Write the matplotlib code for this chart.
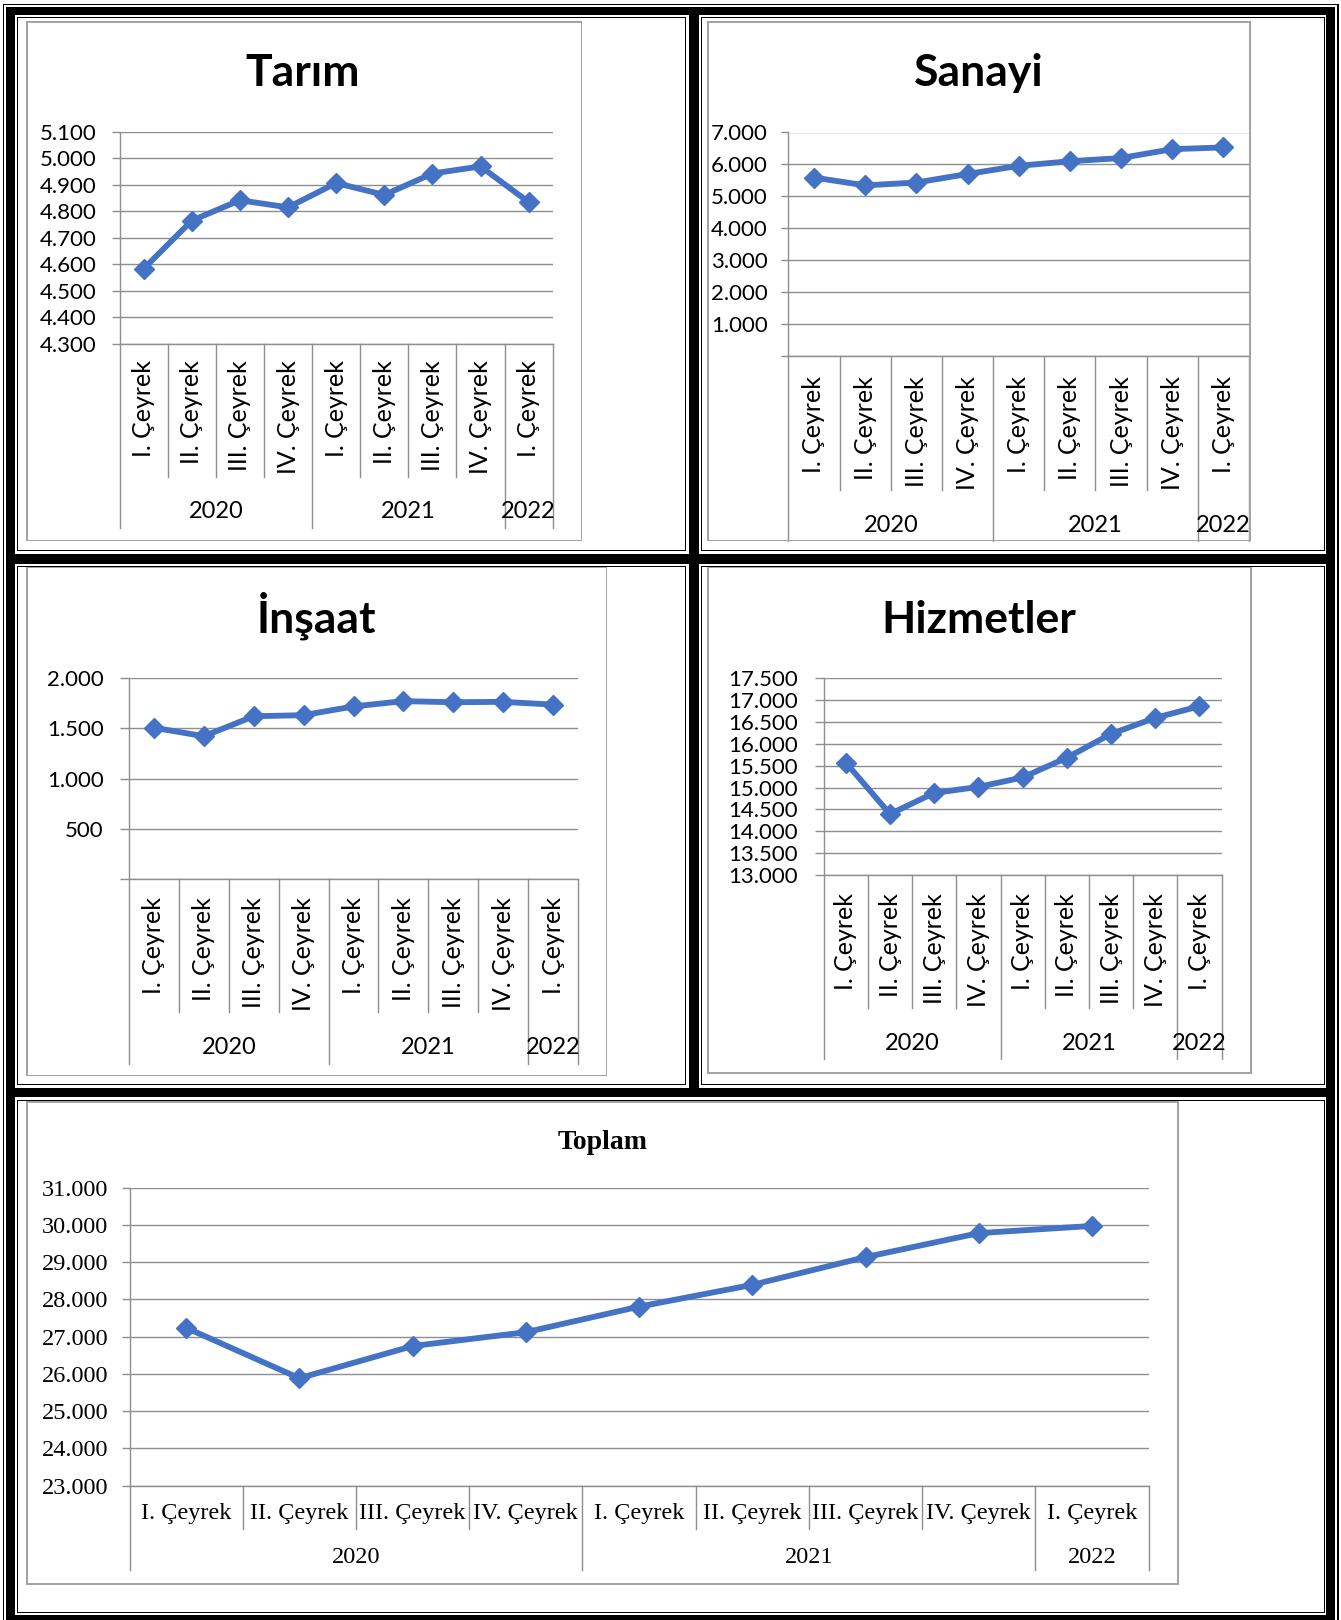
import matplotlib
matplotlib.use("Agg")
import matplotlib.pyplot as plt
from matplotlib.patches import Rectangle
from matplotlib.transforms import blended_transform_factory

# ---------------- data ----------------
quarters = ["I. Çeyrek", "II. Çeyrek", "III. Çeyrek", "IV. Çeyrek",
            "I. Çeyrek", "II. Çeyrek", "III. Çeyrek", "IV. Çeyrek", "I. Çeyrek"]
years = ["2020", "2021", "2022"]
year_spans = [(0, 3), (4, 7), (8, 8)]

tarim = [4583, 4765, 4842, 4815, 4907, 4862, 4943, 4970, 4835]
sanayi = [5589, 5344, 5433, 5700, 5956, 6100, 6200, 6478, 6533]
insaat = [1507, 1423, 1622, 1633, 1720, 1773, 1762, 1766, 1738]
hizmetler = [15573, 14395, 14879, 15016, 15233, 15685, 16230, 16597, 16862]
toplam = [27236, 25882, 26746, 27118, 27805, 28390, 29136, 29780, 29973]

W, H = 1341, 1620
DPI = 100
PX = 72.0 / DPI  # points per pixel

plt.rcParams['font.family'] = ['Lato', 'DejaVu Sans']

fig = plt.figure(figsize=(W / DPI, H / DPI), dpi=DPI)
fig.patch.set_facecolor('white')

LINE_C = '#4472C4'
GRID_C = '#8e8e8e'
FRAME_C = '#a3a3a3'


def rect(x0, y0, x1, y1, color='black', z=5):
    fig.add_artist(Rectangle((x0 / W, 1 - y1 / H), (x1 - x0) / W, (y1 - y0) / H,
                             transform=fig.transFigure, facecolor=color,
                             edgecolor='none', lw=0, zorder=z))


def outline(x0, y0, x1, y1, t=1.3, color='black', z=5):
    rect(x0, y0, x1, y0 + t, color, z)
    rect(x0, y1 - t, x1, y1, color, z)
    rect(x0, y0, x0 + t, y1, color, z)
    rect(x1 - t, y0, x1, y1, color, z)


# ---------------- page borders ----------------
outline(3, 4, 1338.7, 1624, t=1.4)
rect(6, 7, 15, 1620)           # left
rect(1326, 7, 1335, 1620)      # right
rect(6, 7, 1335, 15)           # top
rect(6, 1615, 1335, 1620)      # bottom
rect(689, 7, 699, 1097)        # vertical divider
rect(6, 554, 1335, 564)        # horizontal divider 1
rect(6, 1088, 1335, 1097)      # horizontal divider 2
outline(17, 17, 686.3, 551.3)
outline(701, 17, 1325, 551.3)
outline(17, 566, 686.3, 1085.3)
outline(701, 566, 1325, 1085.3)
outline(17, 1100, 1325, 1613.3)

for (x0, y0, x1, y1) in [(26, 21, 582, 541), (707.4, 21, 1250.6, 541),
                         (26, 566.5, 607, 1076), (707.4, 566.5, 1251.5, 1073.7),
                         (26, 1101, 1178.7, 1584.6)]:
    outline(x0, y0, x1, y1, t=1.5, color=FRAME_C, z=4)


def fmt(v):
    return f"{int(v):,}".replace(",", ".")


def panel(vals, L, R, T, B, ymin, ymax, step, hide_zero, label_right, ticklen,
          qsep, ysep, year_y, cat_y, title, title_x, title_y, serif=False,
          rotated=True):
    ax = fig.add_axes([L / W, 1 - B / H, (R - L) / W, (B - T) / H])
    ax.set_facecolor('none')
    fam = ['Liberation Serif', 'DejaVu Serif'] if serif else ['Lato', 'DejaVu Sans']
    tick_fs = 17.5 if serif else 16
    cat_fs = 17.5 if serif else 18
    year_fs = 17.5 if serif else 17
    x = list(range(len(vals)))
    ax.plot(x, vals, color=LINE_C, lw=4.2, marker='D', ms=9.8,
            mfc=LINE_C, mec=LINE_C, zorder=5, clip_on=False,
            solid_joinstyle='miter')
    ax.set_xlim(-0.5, len(vals) - 0.5)
    ax.set_ylim(ymin, ymax)
    ticks = list(range(ymin, ymax + 1, step))
    ax.set_yticks(ticks)
    ax.set_yticklabels(["" if (hide_zero and t == 0) else fmt(t) for t in ticks],
                       family=fam, fontsize=tick_fs)
    pad_px = (L - ticklen) - label_right
    ax.tick_params(axis='y', direction='out', length=ticklen * PX, width=1.0,
                   color=GRID_C, pad=pad_px * PX, labelcolor='black')
    ax.set_xticks([])
    ax.yaxis.grid(True, color=GRID_C, lw=1.0, zorder=1)
    ax.set_axisbelow(True)
    for s in ['top', 'right']:
        ax.spines[s].set_visible(False)
    for s in ['left', 'bottom']:
        ax.spines[s].set_color(GRID_C)
        ax.spines[s].set_linewidth(1.0)

    tr = blended_transform_factory(ax.transData, ax.transAxes)
    hpx = B - T

    def fy(ypix):
        return (B - ypix) / hpx

    n = len(vals)
    year_bounds = set()
    for (a, b) in year_spans:
        year_bounds.add(a - 0.5)
        year_bounds.add(b + 0.5)
    for i in range(n + 1):
        xb = i - 0.5
        yb = ysep if xb in year_bounds else qsep
        ax.plot([xb, xb], [0, fy(yb)], transform=tr, color=GRID_C, lw=1.0,
                clip_on=False, zorder=2)
    for i, q in enumerate(quarters):
        if rotated:
            ax.text(i, fy(cat_y), q, transform=tr, rotation=90, ha='center',
                    va='top', family=fam, fontsize=cat_fs, color='black')
        else:
            ax.text(i, fy(cat_y), q, transform=tr, ha='center', va='center',
                    family=fam, fontsize=cat_fs, color='black')
    for yl, (a, b) in zip(years, year_spans):
        ax.text((a + b) / 2, fy(year_y), yl, transform=tr, ha='center',
                va='center', family=fam, fontsize=year_fs, color='black')

    if serif:
        fig.text(title_x / W, 1 - title_y / H, title, ha='center', va='baseline',
                 family=fam, fontsize=20, fontweight='bold')
    else:
        fig.text(title_x / W, 1 - title_y / H, title, ha='center', va='baseline',
                 family=fam, fontsize=32, fontweight='bold')
    return ax


panel(tarim, 119.6, 552.7, 132, 343.6, 4300, 5100, 100, False, 97, 8,
      477, 528, 512, 360, "Tarım", 303, 86)
panel(sanayi, 788.4, 1249, 132.5, 356, 0, 7000, 1000, True, 768, 7,
      490, 541, 525, 376, "Sanayi", 978.6, 86)
panel(insaat, 129, 578, 678.4, 878.7, 0, 2000, 500, True, 103.6, 9,
      1012, 1064, 1047, 897, "İnşaat", 317, 632.5)
panel(hizmetler, 823.7, 1221.6, 678.4, 875, 13000, 17500, 500, False, 798, 9,
      1007.7, 1059, 1043, 893, "Hizmetler", 978.6, 632.5)
panel(toplam, 129.5, 1148.7, 1187.7, 1485.5, 23000, 31000, 1000, False, 108.5, 8,
      1529, 1570, 1557.5, 1514, "Toplam", 602.7, 1149, serif=True, rotated=False)

fig.savefig("out.png", dpi=DPI, facecolor='white')
